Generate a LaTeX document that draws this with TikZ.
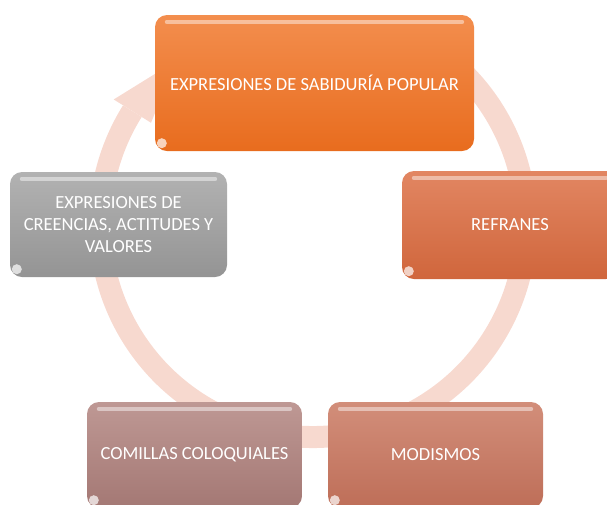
\documentclass[tikz,border=0pt]{standalone}
\usepackage{fontspec}
\setmainfont{Carlito}
\usetikzlibrary{calc, shadings}
\definecolor{sabtop}{RGB}{243,142,78}
\definecolor{sabbot}{RGB}{232,108,30}
\definecolor{reftop}{RGB}{226,134,98}
\definecolor{refbot}{RGB}{208,102,60}
\definecolor{modtop}{RGB}{210,142,122}
\definecolor{modbot}{RGB}{190,110,88}
\definecolor{comtop}{RGB}{190,152,148}
\definecolor{combot}{RGB}{164,120,116}
\definecolor{valtop}{RGB}{178,178,178}
\definecolor{valbot}{RGB}{148,148,148}
\definecolor{ciclo}{RGB}{247,217,207}

\begin{document}
\begin{tikzpicture}[x=1pt, y=-1pt,
    every node/.style={font=\fontsize{18.5}{22}\selectfont},
    caja/.style={rounded corners=12pt, inner sep=0pt, align=center, text=white}]
  % Frame
  \useasboundingbox (0,0) rectangle (607,504);
  \clip (0,0) rectangle (607,504);

  % Cycle arrow behind the boxes
  \coordinate (ctr) at (313,224);
  \draw[ciclo, line width=22pt] ($(ctr)+(-60:213)$) arc (-60:212:213);
  \fill[ciclo] ($(ctr)+(212:191)$) -- ($(ctr)+(212:235)$) -- ($(ctr)+(230:213)$) -- cycle;

  % Boxes
  \node[caja, top color=sabtop, bottom color=sabbot, minimum width=319pt, minimum height=136pt]
    (sabiduria) at (314.5,83) {EXPRESIONES DE SABIDURÍA POPULAR};
  \node[caja, top color=reftop, bottom color=refbot, minimum width=216pt, minimum height=108pt]
    (refranes) at (510,225) {REFRANES};
  \node[caja, top color=modtop, bottom color=modbot, minimum width=215pt, minimum height=106pt]
    (modismos) at (435.5,455) {MODISMOS};
  \node[caja, top color=comtop, bottom color=combot, minimum width=215pt, minimum height=106pt]
    (comillas) at (194.5,455) {COMILLAS COLOQUIALES};
  \node[caja, top color=valtop, bottom color=valbot, minimum width=217pt, minimum height=105pt]
    (valores) at (118.5,224.5) {EXPRESIONES DE\\CREENCIAS, ACTITUDES Y\\VALORES};

  % Gloss
  \foreach \b in {sabiduria, refranes, modismos, comillas, valores} {
    \draw[white, opacity=0.45, line width=4pt, line cap=round]
      ($(\b.north west)+(12,7)$) -- ($(\b.north east)+(-12,7)$);
    \fill[white, opacity=0.7] ($(\b.south west)+(7,-8)$) circle (5);
  }
\end{tikzpicture}
\end{document}
